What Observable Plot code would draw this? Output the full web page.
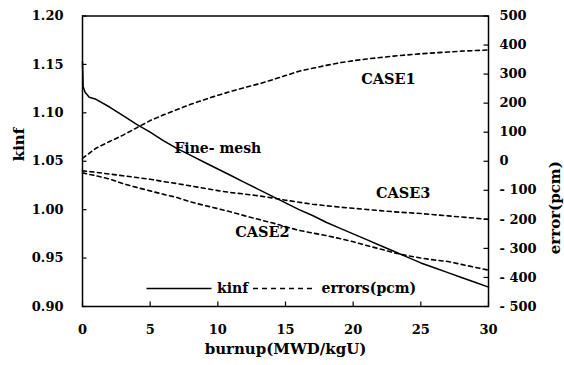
<!DOCTYPE html>
<html><head><meta charset="utf-8">
<script src="https://cdn.jsdelivr.net/npm/d3@7"></script>
<script src="https://cdn.jsdelivr.net/npm/@observablehq/plot@0.6"></script>
<style>
body{margin:0;background:#fff}
#chart{position:relative;width:564px;height:365px}
#chart svg{font-family:"DejaVu Serif",serif;font-weight:bold;background:#fff}
</style>
</head><body><div id="chart"></div>
<script>
// Fine-mesh kinf vs burnup
const kinfBurnup = [0,0.05,0.2,0.5,1,2,3,4,5,6,7,8,9,10,11,12,13,14,15,16,17,18,19,20,21,22,23,24,25,26,27,28,29,30];
const kinf = [1.153,1.127,1.121,1.116,1.114,1.106,1.097,1.088,1.080,1.071,1.063,1.056,1.049,1.042,1.035,1.028,1.021,1.014,1.007,1.000,0.994,0.987,0.981,0.975,0.969,0.963,0.957,0.951,0.945,0.940,0.935,0.930,0.925,0.920];
// errors (pcm) of the three cases
const errBurnup = [0,1,2,3,4,5,6,7,8,9,10,11,12,13,14,15,16,17,18,19,20,21,22,23,24,25,26,27,28,29,30];
const case1 = [10,45,68,90,115,140,160,178,196,212,227,241,254,266,280,295,310,320,330,339,346,352,357,362,366,370,373,376,379,381,383];
const case2 = [-40,-50,-61,-77,-90,-102,-114,-125,-140,-152,-163,-175,-188,-200,-212,-225,-238,-247,-256,-266,-277,-290,-302,-315,-325,-333,-340,-345,-355,-365,-375];
const case3 = [-33,-38,-44,-50,-56,-62,-70,-77,-85,-93,-101,-108,-113,-119,-126,-134,-141,-148,-153,-158,-162,-166,-170,-174,-177,-180,-184,-188,-192,-196,-200];
const caseNames = ["CASE1","CASE2","CASE3"];
// annotations
const caseLabelX = [22.6, 13.3, 23.7];
const caseLabelErr = [282, -246, -110];
const fineLabel = "Fine- mesh", fineLabelX = 10, fineLabelK = 1.0627;
// axes
const xTicks = [0,5,10,15,20,25,30];
const kTicks = [0.90,0.95,1.00,1.05,1.10,1.15,1.20];
const errTicks = [-500,-400,-300,-200,-100,0,100,200,300,400,500];
const xLabel = "burnup(MWD/kgU)", kLabel = "kinf", errLabel = "error(pcm)";
const legendLabels = ["kinf","errors(pcm)"];

// error axis mapped onto kinf axis: -500 -> 0.90, 500 -> 1.20
const toK = e => 1.05 + e * 0.0003;
const fmtErr = e => e < 0 ? "- " + Math.abs(e) : String(e);

const kinfData = kinfBurnup.map((b, i) => ({b, v: kinf[i]}));
const errData = [case1, case2, case3].flatMap((s, j) => s.map((e, i) => ({b: errBurnup[i], v: toK(e), c: caseNames[j]})));
const caseLabels = caseNames.map((n, i) => ({n, b: caseLabelX[i], v: toK(caseLabelErr[i])}));

const W = 564, H = 365, mL = 82, mR = 76, mT = 15.5, mB = 59;
const fw = W - mL - mR, fh = H - mT - mB;

const chart = Plot.plot({
  width: W, height: H,
  marginLeft: mL, marginRight: mR, marginTop: mT, marginBottom: mB,
  style: {fontFamily: "DejaVu Serif", fontSize: "13px", fontWeight: "bold", color: "#000"},
  x: {domain: [0, 30], axis: null, label: null},
  y: {domain: [0.90, 1.20], axis: null, label: null},
  marks: [
    Plot.axisX(xTicks, {anchor: "bottom", tickSize: 0, tickPadding: 18, fontSize: 13, label: null}),
    Plot.axisY(kTicks, {anchor: "left", tickSize: 0, tickPadding: 19, tickFormat: d => d.toFixed(2), fontSize: 13, label: null}),
    Plot.axisY(errTicks.map(toK), {anchor: "right", tickSize: 0, tickPadding: 11, tickFormat: d => fmtErr(Math.round((d - 1.05) / 0.0003)), textAnchor: "start", fontSize: 13, label: null}),
    Plot.tickX(xTicks, {x: d => d, insetTop: fh - 4.5, stroke: "#000", strokeWidth: 1.2}),
    Plot.tickY(kTicks, {y: d => d, insetRight: fw - 4.5, stroke: "#000", strokeWidth: 1.2}),
    Plot.tickY(errTicks.map(toK), {y: d => d, insetLeft: fw - 4.5, stroke: "#000", strokeWidth: 1.2}),
    Plot.line(errData, {x: "b", y: "v", z: "c", stroke: "#000", strokeWidth: 1.6, strokeDasharray: "4,3.5"}),
    Plot.line(kinfData, {x: "b", y: "v", stroke: "#000", strokeWidth: 1.5}),
    Plot.text(caseLabels, {x: "b", y: "v", text: "n", fontSize: 14.5, fill: "#000"}),
    Plot.text([fineLabel], {x: fineLabelX, y: fineLabelK, text: d => d, fontSize: 14, fill: "#000"}),
    Plot.text([xLabel], {frameAnchor: "bottom", dy: 47, text: d => d, fontSize: 15}),
    Plot.text([kLabel], {frameAnchor: "left", dx: -63, rotate: -90, text: d => d, fontSize: 15}),
    Plot.text([errLabel], {frameAnchor: "right", dx: 67, rotate: -90, text: d => d, fontSize: 15}),
    Plot.frame({stroke: "#000", strokeWidth: 1.5})
  ]
});
document.getElementById("chart").appendChild(chart);

// legend inside the plot frame
const svg = d3.select(chart);
const lg = svg.append("g").attr("font-size", 14).attr("font-weight", "bold").attr("font-family", "DejaVu Serif").attr("text-anchor", "start").attr("fill", "#000");
const ly = H - mB - 17.5;
const lx0 = mL + 64.5;
lg.append("line").attr("x1", lx0).attr("x2", lx0 + 65).attr("y1", ly).attr("y2", ly).attr("stroke", "#000").attr("stroke-width", 1.5);
lg.append("text").attr("x", lx0 + 70.5).attr("y", ly).attr("dy", "0.35em").text(legendLabels[0]);
lg.append("line").attr("x1", lx0 + 106.5).attr("x2", lx0 + 166.5).attr("y1", ly).attr("y2", ly).attr("stroke", "#000").attr("stroke-width", 1.6).attr("stroke-dasharray", "5,4");
lg.append("text").attr("x", lx0 + 175).attr("y", ly).attr("dy", "0.35em").text(legendLabels[1]);
</script>
</body></html>
